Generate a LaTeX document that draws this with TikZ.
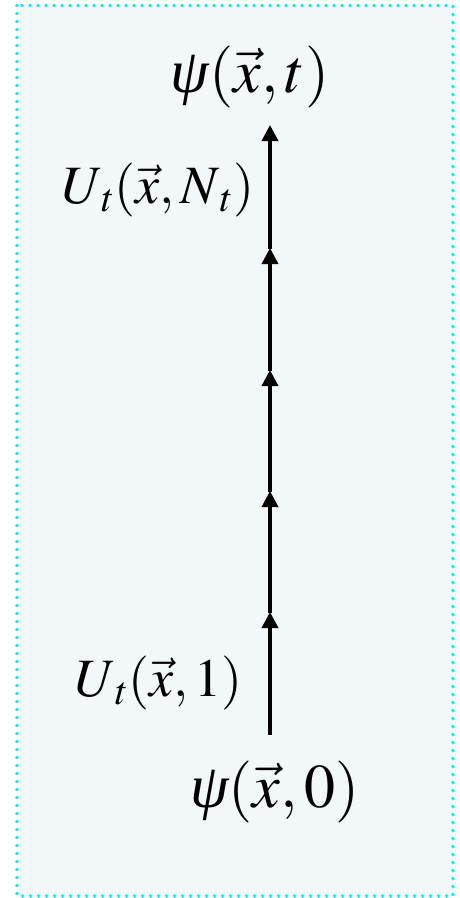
\documentclass[tikz,border=0pt]{standalone}
\usepackage{mathptmx}
\usepackage[no-math]{fontspec}
\newfontfamily\greekserif{Liberation Serif}
\newcommand{\wavefn}{\mbox{\greekserif\itshape ψ}}
\usetikzlibrary{arrows.meta}
\definecolor{panelfill}{RGB}{242,247,250}
\definecolor{panelline}{RGB}{0,240,250}
\tikzset{
  panel/.style={fill=panelfill, draw=panelline, line width=3.6pt, line cap=round,
                dash pattern=on 0pt off 8pt},
  stage/.style={draw=black, line width=3.5pt,
                -{Triangle[width=16pt,length=16pt]}, shorten <=-0.5pt},
  bigeq/.style={inner sep=0pt, font=\fontsize{62}{70}\selectfont},
  smalleq/.style={inner sep=0pt, font=\fontsize{54}{60}\selectfont},
}
\begin{document}
\begin{tikzpicture}[x=1pt,y=-1pt]
  \useasboundingbox (0,0) rectangle (460,898);
  \path[panel] (17,5.5) rectangle (453,896);

  % states
  \node[bigeq] (psit) at (250,77) {$\wavefn(\vec{x},t)$};
  \node[bigeq] (psi0) at (275,792) {$\wavefn(\vec{x},0)$};

  % evolution steps along the time axis
  \coordinate (c0) at (270,734);
  \coordinate (c1) at (270,612);
  \coordinate (c2) at (270,491);
  \coordinate (c3) at (270,370);
  \coordinate (c4) at (270,248);
  \coordinate (c5) at (270,125);
  \draw[stage] (c0) -- (c1);
  \draw[stage] (c1) -- (c2);
  \draw[stage] (c2) -- (c3);
  \draw[stage] (c3) -- (c4);
  \draw[stage] (c4) -- (c5);

  % step operators
  \node[smalleq] (uN) at (158,190) {$U_{\,t}(\vec{x},N_{\,t})$};
  \node[smalleq] (u1) at (159,683) {$U_{\,t}(\vec{x},1)$};
\end{tikzpicture}
\end{document}
